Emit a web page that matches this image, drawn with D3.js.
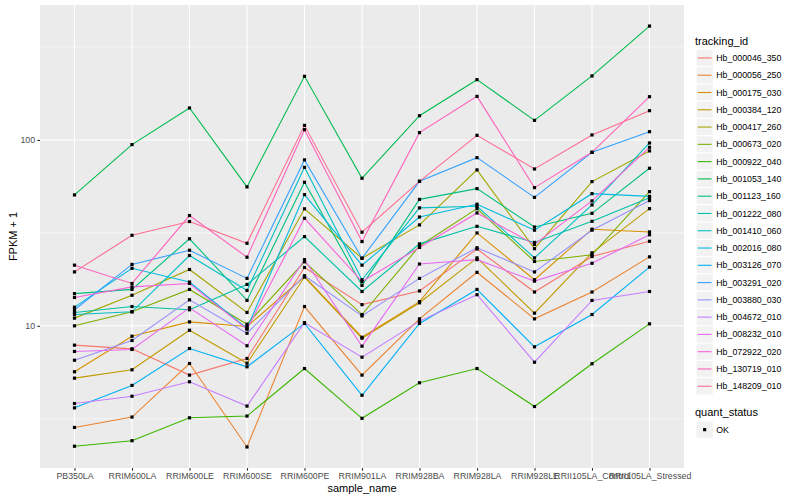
<!DOCTYPE html>
<html>
<head>
<meta charset="utf-8">
<title>FPKM by sample</title>
<script src="https://cdn.jsdelivr.net/npm/d3@7"></script>
<style>
  body { margin: 0; background: #fff; }
  text { font-family: "Liberation Sans", Arial, sans-serif; }
</style>
</head>
<body>
<script>
// samples on the x axis
var samples = ["PB350LA", "RRIM600LA", "RRIM600LE", "RRIM600SE", "RRIM600PE", "RRIM901LA",
               "RRIM928BA", "RRIM928LA", "RRIM928LE", "RRII105LA_Control", "RRII105LA_Stressed"];

// FPKM + 1 per gene, one value per sample
var hb_000046_350 = [7.87, 7.52, 5.43, 6.67, 20.6, 13.0, 15.4, 25.9, 15.2, 23.6, 28.5];
var hb_000056_250 = [2.84, 3.23, 6.27, 2.23, 12.7, 5.43, 10.9, 19.4, 10.9, 15.2, 23.5];
var hb_000175_030 = [5.66, 8.79, 10.5, 9.91, 18.4, 8.68, 13.5, 31.6, 17.7, 33.1, 32.0];
var hb_000384_120 = [5.23, 5.80, 9.47, 6.29, 18.3, 8.58, 13.3, 23.2, 11.7, 24.7, 42.7];
var hb_000417_260 = [11.0, 14.6, 20.1, 11.8, 42.6, 23.1, 34.9, 69.0, 26.0, 59.7, 87.3];
var hb_000673_020 = [10.0, 11.9, 15.7, 10.2, 22.1, 11.5, 26.9, 42.7, 22.2, 24.1, 52.7];
var hb_000922_040 = [2.25, 2.41, 3.20, 3.27, 5.89, 3.18, 4.94, 5.89, 3.68, 6.25, 10.25];
var hb_001053_140 = [50.6, 94.4, 148.6, 55.9, 220, 62.2, 135, 211, 127.5, 221, 410];
var hb_001123_160 = [14.9, 15.7, 29.4, 13.7, 59.2, 16.5, 47.9, 54.7, 34.0, 40.3, 70.4];
var hb_001222_080 = [11.8, 12.7, 12.2, 16.7, 30.2, 15.3, 27.6, 34.3, 28.1, 36.5, 48.8];
var hb_001410_060 = [11.5, 11.9, 23.9, 15.5, 71.2, 17.7, 43.1, 44.0, 23.2, 44.7, 96.3];
var hb_002016_080 = [12.6, 20.4, 17.2, 9.67, 50.8, 21.2, 38.5, 45.1, 32.7, 51.4, 49.7];
var hb_003126_070 = [3.62, 4.78, 7.55, 6.02, 10.3, 4.23, 10.3, 15.7, 7.71, 11.5, 20.7];
var hb_003291_020 = [12.2, 21.4, 25.5, 18.0, 78.1, 23.1, 59.9, 80.3, 49.1, 85.8, 110.8];
var hb_003880_030 = [6.53, 8.34, 13.8, 9.12, 18.6, 11.3, 18.0, 26.3, 19.5, 32.7, 47.2];
var hb_004672_010 = [3.82, 4.18, 5.00, 3.70, 10.4, 6.78, 10.6, 14.7, 6.37, 13.7, 15.3];
var hb_008232_010 = [7.28, 7.46, 12.5, 7.81, 22.7, 7.77, 21.5, 22.7, 17.4, 21.7, 30.9];
var hb_072922_020 = [14.2, 16.2, 16.9, 9.59, 37.9, 17.3, 26.4, 40.5, 27.4, 47.0, 91.3];
var hb_130719_010 = [21.2, 16.9, 39.2, 23.4, 113.6, 28.4, 109.5, 171.6, 55.4, 85.8, 170.9];
var hb_148209_010 = [19.5, 30.7, 36.4, 27.8, 119.8, 31.9, 59.9, 105.9, 69.8, 106.4, 143.7];

var trackingIds = ["Hb_000046_350", "Hb_000056_250", "Hb_000175_030", "Hb_000384_120", "Hb_000417_260",
                   "Hb_000673_020", "Hb_000922_040", "Hb_001053_140", "Hb_001123_160", "Hb_001222_080",
                   "Hb_001410_060", "Hb_002016_080", "Hb_003126_070", "Hb_003291_020", "Hb_003880_030",
                   "Hb_004672_010", "Hb_008232_010", "Hb_072922_020", "Hb_130719_010", "Hb_148209_010"];
var geneValues = [hb_000046_350, hb_000056_250, hb_000175_030, hb_000384_120, hb_000417_260,
                  hb_000673_020, hb_000922_040, hb_001053_140, hb_001123_160, hb_001222_080,
                  hb_001410_060, hb_002016_080, hb_003126_070, hb_003291_020, hb_003880_030,
                  hb_004672_010, hb_008232_010, hb_072922_020, hb_130719_010, hb_148209_010];

// ggplot default hue palette for 20 levels
var colors = ["#F8766D", "#EA8331", "#D89000", "#C09B00", "#A3A500", "#7CAE00", "#39B600", "#00BB4E",
              "#00BF7D", "#00C1A3", "#00BFC4", "#00BAE0", "#00B0F6", "#35A2FF", "#9590FF", "#C77CFF",
              "#E76BF3", "#FA62DB", "#FF62BC", "#FF6C91"];

var yMajor = [10, 100];
var statusLevels = ["OK"];

var w = 800, h = 500;
// panel edges (note: "top" is reserved on window, so prefix these)
var pLeft = 40, pRight = 684, pTop = 5, pBottom = 468;

var svg = d3.select("body").append("svg")
    .attr("width", w)
    .attr("height", h);

var series = trackingIds.map(function(id, i) {
    return { id: id, color: colors[i],
             values: samples.map(function(s, j) { return { s: s, v: geneValues[i][j] }; }) };
});

// log scale with 5% expansion like ggplot
var all = d3.merge(geneValues);
var lmin = Math.log10(d3.min(all)), lmax = Math.log10(d3.max(all));
var pad = (lmax - lmin) * 0.05;

var x = d3.scalePoint().domain(samples).range([pLeft, pRight]).padding(0.6);
var y = d3.scaleLog().domain([Math.pow(10, lmin - pad), Math.pow(10, lmax + pad)]).range([pBottom, pTop]);

// panel
svg.append("rect")
    .attr("x", pLeft).attr("y", pTop)
    .attr("width", pRight - pLeft).attr("height", pBottom - pTop)
    .attr("fill", "#EBEBEB");

var yMinor = [];
for (var k = 0; k < 3; k++) yMinor.push(Math.pow(10, k + 0.5));

svg.selectAll(".minor").data(yMinor).enter().append("line")
    .attr("x1", pLeft).attr("x2", pRight)
    .attr("y1", function(d) { return y(d); }).attr("y2", function(d) { return y(d); })
    .attr("stroke", "#fff").attr("stroke-width", 0.55);

svg.selectAll(".majory").data(yMajor).enter().append("line")
    .attr("x1", pLeft).attr("x2", pRight)
    .attr("y1", function(d) { return y(d); }).attr("y2", function(d) { return y(d); })
    .attr("stroke", "#fff").attr("stroke-width", 1.1);

svg.selectAll(".majorx").data(samples).enter().append("line")
    .attr("x1", function(d) { return x(d); }).attr("x2", function(d) { return x(d); })
    .attr("y1", pTop).attr("y2", pBottom)
    .attr("stroke", "#fff").attr("stroke-width", 1.1);

// lines
var line = d3.line()
    .x(function(d) { return x(d.s); })
    .y(function(d) { return y(d.v); });

svg.selectAll(".gene").data(series).enter().append("path")
    .attr("d", function(d) { return line(d.values); })
    .attr("fill", "none")
    .attr("stroke", function(d) { return d.color; })
    .attr("stroke-width", 1.1);

// points (square markers)
var pts = d3.merge(series.map(function(d) { return d.values; }));
svg.selectAll(".pt").data(pts).enter().append("rect")
    .attr("x", function(d) { return x(d.s) - 1.6; })
    .attr("y", function(d) { return y(d.v) - 1.6; })
    .attr("width", 3.2).attr("height", 3.2)
    .attr("fill", "#000");

// axes
var xAxis = svg.append("g")
    .attr("transform", "translate(0," + pBottom + ")")
    .call(d3.axisBottom(x).tickSize(2.7).tickPadding(2.2));
var yAxis = svg.append("g")
    .attr("transform", "translate(" + pLeft + ",0)")
    .call(d3.axisLeft(y).tickValues(yMajor).tickFormat(d3.format("d")).tickSize(2.7).tickPadding(2.2));

[xAxis, yAxis].forEach(function(g) {
    g.select(".domain").remove();
    g.selectAll("line").attr("stroke", "#333333").attr("stroke-width", 1.1);
    g.selectAll("text").attr("fill", "#4D4D4D").style("font-size", "8.8px")
        .style("font-family", "'Liberation Sans', Arial, sans-serif");
});

svg.append("text")
    .attr("x", (pLeft + pRight) / 2).attr("y", 492)
    .attr("text-anchor", "middle")
    .style("font-size", "11px")
    .text("sample_name");

svg.append("text")
    .attr("transform", "translate(17," + (pTop + pBottom) / 2 + ") rotate(-90)")
    .attr("text-anchor", "middle")
    .style("font-size", "11px")
    .text("FPKM + 1");

// legend: tracking_id
var lx = 696, ly = 49.3, key = 17.28;
svg.append("text")
    .attr("x", lx - 1).attr("y", 44.5)
    .style("font-size", "11px")
    .text("tracking_id");

var lg = svg.selectAll(".leg").data(series).enter().append("g")
    .attr("transform", function(d, i) { return "translate(" + lx + "," + (ly + i * key) + ")"; });
lg.append("rect")
    .attr("width", key).attr("height", key)
    .attr("fill", "#F2F2F2").attr("stroke", "#fff").attr("stroke-width", 1);
lg.append("line")
    .attr("x1", 1.7).attr("x2", key - 1.7)
    .attr("y1", key / 2).attr("y2", key / 2)
    .attr("stroke", function(d) { return d.color; })
    .attr("stroke-width", 1.1);
lg.append("text")
    .attr("x", key + 3).attr("y", key / 2)
    .attr("dy", "0.35em")
    .style("font-size", "8.8px")
    .text(function(d) { return d.id; });

// legend: quant_status
svg.append("text")
    .attr("x", lx - 1).attr("y", 416)
    .style("font-size", "11px")
    .text("quant_status");

var sg = svg.selectAll(".status").data(statusLevels).enter().append("g")
    .attr("transform", function(d, i) { return "translate(" + lx + "," + (421 + i * key) + ")"; });
sg.append("rect")
    .attr("width", key).attr("height", key)
    .attr("fill", "#F2F2F2").attr("stroke", "#fff").attr("stroke-width", 1);
sg.append("rect")
    .attr("x", key / 2 - 1.6).attr("y", key / 2 - 1.6)
    .attr("width", 3.2).attr("height", 3.2)
    .attr("fill", "#000");
sg.append("text")
    .attr("x", key + 3).attr("y", key / 2)
    .attr("dy", "0.35em")
    .style("font-size", "8.8px")
    .text(function(d) { return d; });
</script>
</body>
</html>
